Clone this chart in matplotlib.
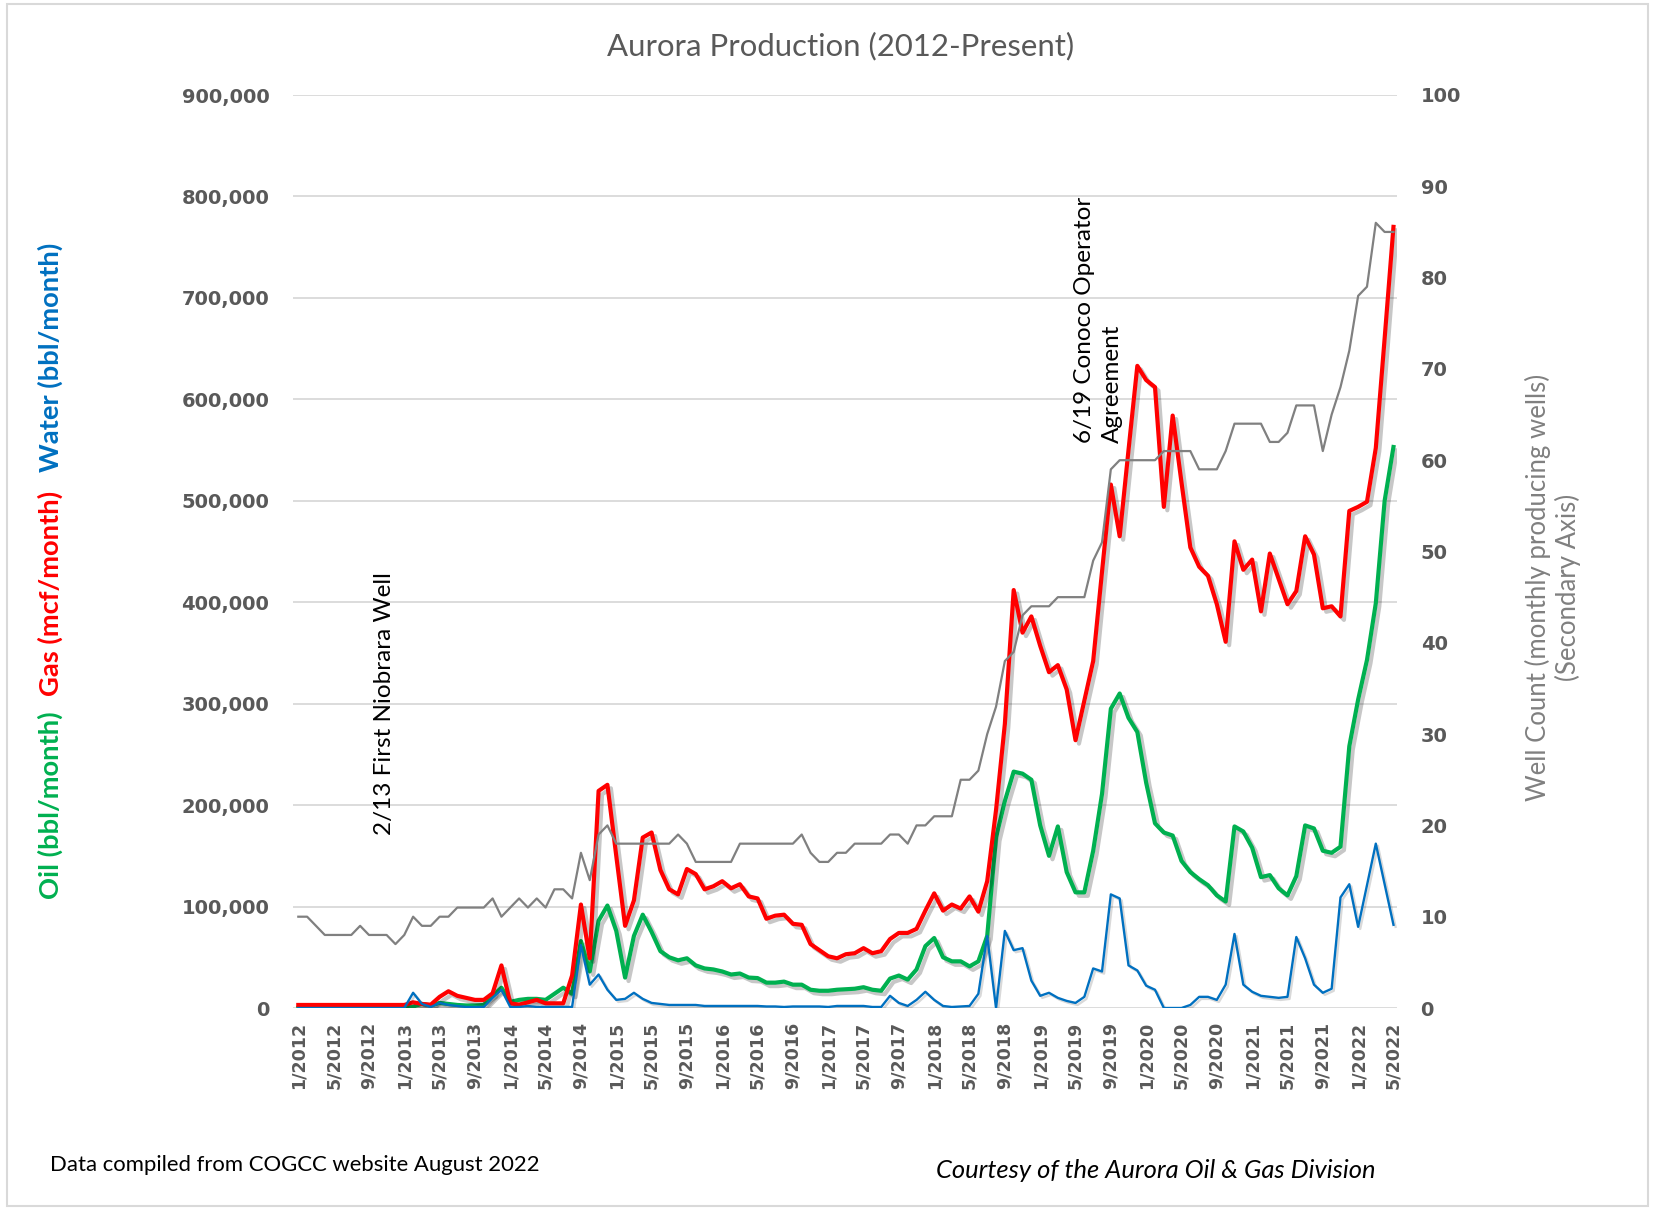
import numpy as np
import matplotlib
matplotlib.use("Agg")
import matplotlib.pyplot as plt
import matplotlib.patheffects as pe
from matplotlib.patches import Rectangle
from matplotlib.ticker import FuncFormatter, MultipleLocator

# ---------------- data (monthly, 1/2012 .. 5/2022) ----------------
gas_mcf = [
    3000, 3000, 3000, 3000, 3000, 3000, 3000, 3000, 3000, 3000, 3000, 3000,
    3000, 5600, 4000, 3300, 11000, 16500, 12000, 10000, 8000, 8000, 14500, 42000,
    4600, 3300, 5600, 8000, 4600, 4600, 4600, 32000, 102000, 49000, 214000, 220000,
    150000, 81000, 106000, 168000, 173000, 136000, 117000, 112000, 137000, 132000, 117000, 120000,
    125000, 118000, 122000, 110000, 108000, 88000, 91000, 92000, 83000, 82000, 63000, 57000,
    51000, 49000, 53000, 54000, 59000, 54000, 56000, 68000, 74000, 74000, 78000, 96000,
    113000, 96000, 102000, 98000, 110000, 95000, 125000, 195000, 280000, 412000, 370000, 386000,
    357000, 331000, 338000, 314000, 264000, 303000, 342000, 430000, 516000, 465000, 550000, 633000,
    619000, 612000, 494000, 584000, 518000, 454000, 435000, 426000, 398000, 361000, 460000, 432000,
    442000, 391000, 448000, 423000, 398000, 411000, 465000, 447000, 394000, 396000, 386000, 490000,
    494000, 499000, 552000, 660000, 770000,
]

oil_bbl = [
    0, 0, 0, 0, 0, 0, 0, 0, 0, 0, 0, 0,
    0, 1500, 4000, 2500, 5000, 4000, 3000, 2500, 2500, 3000, 12000, 20000,
    6000, 8000, 9000, 9000, 8000, 14000, 20000, 14000, 66000, 36000, 86000, 101000,
    76000, 30000, 71000, 92000, 75000, 56000, 50000, 47000, 49000, 42000, 39000, 38000,
    36000, 33000, 34000, 30000, 29500, 25000, 25000, 26000, 23000, 23000, 18000, 17000,
    17000, 18000, 18500, 19000, 20500, 18000, 17000, 29000, 32000, 28000, 38000, 61000,
    69000, 50000, 46000, 46000, 41000, 46000, 71000, 168000, 204000, 233000, 231000, 225000,
    180000, 150000, 179000, 134000, 114000, 114000, 155000, 211000, 295000, 310000, 286000, 272000,
    222000, 182000, 173000, 170000, 145000, 134000, 127000, 121000, 111000, 105000, 179000, 174000,
    158000, 129000, 131000, 118000, 111000, 130000, 180000, 177000, 155000, 153000, 159000, 258000,
    304000, 343000, 399000, 500000, 553000,
]

water_bbl = [
    0, 0, 0, 0, 0, 0, 0, 0, 0, 0, 0, 0,
    0, 15000, 4000, 1000, 5000, 3000, 2000, 1000, 1000, 1000, 10000, 18000,
    1000, 1000, 2000, 1000, 1000, 1000, 1000, 1000, 62000, 23000, 33000, 18000,
    8000, 9000, 15000, 9000, 5000, 4000, 3000, 3000, 3000, 3000, 2000, 2000,
    2000, 2000, 2000, 2000, 2000, 1500, 1500, 1000, 1500, 1500, 1500, 1500,
    1000, 2000, 2000, 2000, 2000, 1000, 1000, 12000, 5000, 2000, 8000, 16000,
    8000, 2000, 1000, 1500, 2000, 14000, 71000, 0, 76000, 57000, 59000, 27000,
    12000, 15000, 10000, 7000, 5000, 11000, 39000, 36000, 112000, 108000, 42000, 37000,
    22000, 18000, 0, 0, 0, 3000, 11000, 11000, 8000, 23000, 73000, 23000,
    16000, 12000, 11000, 10000, 11000, 70000, 49000, 23000, 15000, 19000, 109000, 122000,
    80000, 121000, 162000, 122000, 82000,
]

well_count = [
    10, 10, 9, 8, 8, 8, 8, 9, 8, 8, 8, 7,
    8, 10, 9, 9, 10, 10, 11, 11, 11, 11, 12, 10,
    11, 12, 11, 12, 11, 13, 13, 12, 17, 14, 19, 20,
    18, 18, 18, 18, 18, 18, 18, 19, 18, 16, 16, 16,
    16, 16, 18, 18, 18, 18, 18, 18, 18, 19, 17, 16,
    16, 17, 17, 18, 18, 18, 18, 19, 19, 18, 20, 20,
    21, 21, 21, 25, 25, 26, 30, 33, 38, 39, 43, 44,
    44, 44, 45, 45, 45, 45, 49, 51, 59, 60, 60, 60,
    60, 60, 61, 61, 61, 61, 59, 59, 59, 61, 64, 64,
    64, 64, 62, 62, 63, 66, 66, 66, 61, 65, 68, 72,
    78, 79, 86, 85, 85,
]

tick_labels = [
    "1/2012", "5/2012", "9/2012", "1/2013", "5/2013", "9/2013", "1/2014", "5/2014",
    "9/2014", "1/2015", "5/2015", "9/2015", "1/2016", "5/2016", "9/2016", "1/2017",
    "5/2017", "9/2017", "1/2018", "5/2018", "9/2018", "1/2019", "5/2019", "9/2019",
    "1/2020", "5/2020", "9/2020", "1/2021", "5/2021", "9/2021", "1/2022", "5/2022",
]

# ---------------- figure ----------------
W, H = 1653, 1210
fig = plt.figure(figsize=(W / 100, H / 100), dpi=100)
fig.patch.set_facecolor("white")

L, R, B, T = 293 / W, 1397 / W, 1 - 1008 / H, 1 - 95 / H
ax = fig.add_axes([L, B, R - L, T - B])
x = np.arange(len(gas_mcf))

TICK_C = "#595959"
GRID_C = "#d9d9d9"
LAT = ["Lato", "DejaVu Sans"]

shadow = [pe.SimpleLineShadow(offset=(2.5, -2.5), shadow_color="black", alpha=0.22, rho=1.0),
          pe.Normal()]
shadow_thin = [pe.SimpleLineShadow(offset=(1.5, -1.5), shadow_color="black", alpha=0.15, rho=1.0),
               pe.Normal()]

ax.plot(x, oil_bbl, color="#00b050", lw=3.0, path_effects=shadow, zorder=3,
        solid_joinstyle="round")
ax.plot(x, gas_mcf, color="#ff0000", lw=3.0, path_effects=shadow, zorder=4,
        solid_joinstyle="round")
ax.plot(x, water_bbl, color="#0070c0", lw=1.7, path_effects=shadow_thin, zorder=5,
        solid_joinstyle="round")

ax.set_xlim(-0.6, 124.4)
ax.set_ylim(0, 900000)
ax.yaxis.set_major_locator(MultipleLocator(100000))
ax.yaxis.set_major_formatter(FuncFormatter(lambda v, p: f"{v:,.0f}"))
ax.grid(axis="y", color=GRID_C, lw=1.3, zorder=0)
ax.set_axisbelow(True)
for s in ax.spines.values():
    s.set_visible(False)

ax.set_xticks(np.arange(0, len(gas_mcf), 4))
ax.set_xticklabels(tick_labels, rotation=90)
ax.tick_params(axis="x", length=0, pad=10, labelsize=12.6, labelcolor=TICK_C)
ax.tick_params(axis="y", length=0, pad=17, labelsize=14, labelcolor=TICK_C)
for lab in ax.get_xticklabels() + ax.get_yticklabels():
    lab.set_fontweight("bold")

ax2 = ax.twinx()
ax2.plot(x, well_count, color="#808080", lw=1.6, zorder=6)
ax2.set_ylim(0, 100)
ax2.yaxis.set_major_locator(MultipleLocator(10))
ax2.tick_params(axis="y", length=0, pad=17, labelsize=14, labelcolor=TICK_C)
for lab in ax2.get_yticklabels():
    lab.set_fontweight("bold")
for s in ax2.spines.values():
    s.set_visible(False)

# annotations
ax.text(9.8, 300000, "2/13 First Niobrara Well", rotation=90, ha="center", va="center",
        fontsize=17.5, family=LAT, color="black", zorder=7)
ax.text(90.6, 557000, "6/19 Conoco Operator\nAgreement", rotation=90, ha="center",
        va="bottom", multialignment="left", fontsize=17.5, family=LAT, color="black",
        linespacing=1.4, zorder=7)

# title
fig.text(841 / W, 1 - 46 / H, "Aurora Production (2012-Present)", ha="center", va="center",
         fontsize=22.4, family=LAT, color=TICK_C)

# left colored axis label
for txt, col, yc in [("Oil (bbl/month)", "#00b050", 805),
                     ("Gas (mcf/month)", "#ff0000", 593),
                     ("Water (bbl/month)", "#0070c0", 357)]:
    fig.text(50 / W, 1 - yc / H, txt, rotation=90, ha="center", va="center",
             fontsize=19.7, fontweight="bold", family=LAT, color=col)

# right axis label
fig.text(1553 / W, 1 - 587 / H, "Well Count (monthly producing wells)\n(Secondary Axis)",
         rotation=90, ha="center", va="center", multialignment="center",
         fontsize=18.5, family=LAT, color="#808080", linespacing=1.15)

# footers
fig.text(50 / W, 1 - 1165 / H, "Data compiled from COGCC website August 2022",
         ha="left", va="center", fontsize=15.9, family=LAT, color="black")
fig.text(1376 / W, 1 - 1170 / H, "Courtesy of the Aurora Oil & Gas Division",
         ha="right", va="center", fontsize=18.4, family=LAT, style="italic", color="black")

# outer frame
fig.patches.append(Rectangle((7 / W, 4 / H), 1 - 12 / W, 1 - 8 / H, transform=fig.transFigure,
                             fill=False, edgecolor=GRID_C, lw=1.5))

fig.savefig("out.png", dpi=100)
